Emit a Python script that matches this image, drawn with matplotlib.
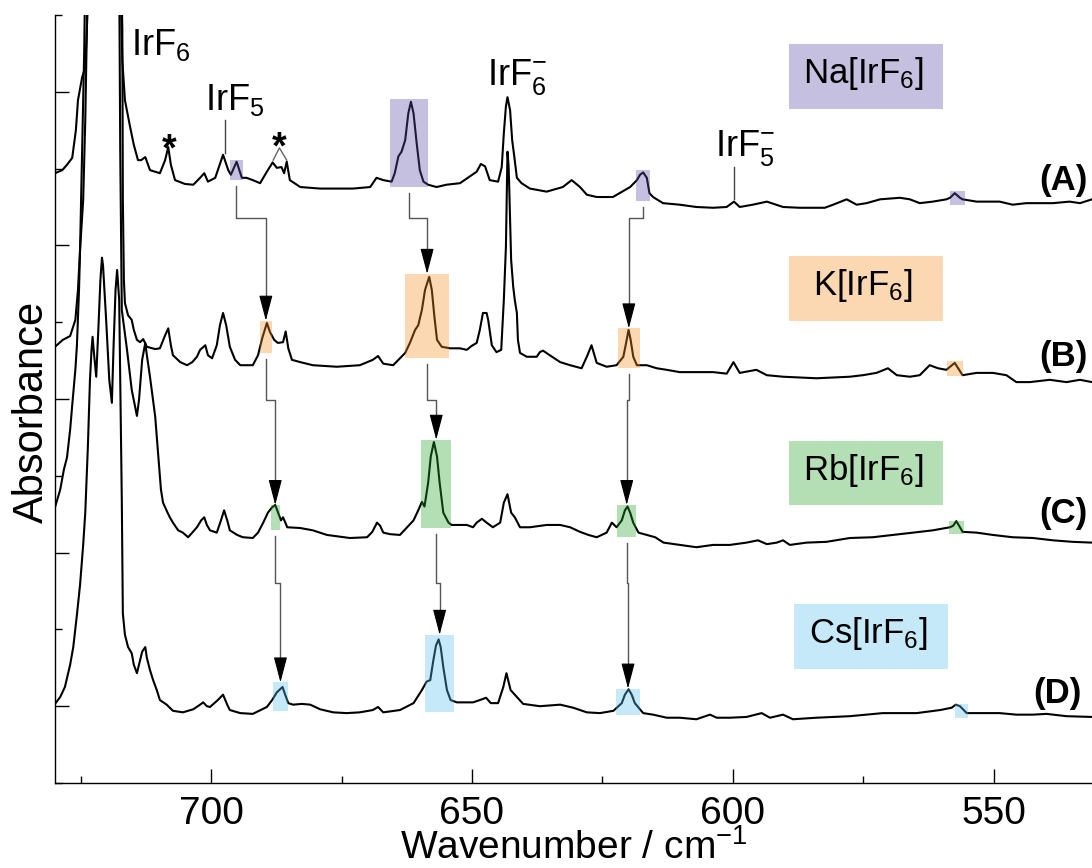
import numpy as np
import matplotlib.pyplot as plt
from matplotlib.patches import Rectangle, FancyArrowPatch

plt.rcParams['font.family'] = 'Liberation Sans'
plt.rcParams['mathtext.fontset'] = 'custom'
plt.rcParams['mathtext.rm'] = 'Liberation Sans'
plt.rcParams['mathtext.it'] = 'Liberation Sans:italic'
plt.rcParams['mathtext.bf'] = 'Liberation Sans:bold'

# IR spectra (wavenumber / cm-1, stacked absorbance)
na_spec = [
    (729.9, 7.94), (728.5, 7.98), (727.6, 8.05), (726.6, 8.14), (725.9, 8.50), (725.5, 8.89),
    (724.7, 9.19), (724.1, 9.32), (723.8, 9.80), (723.5, 10.6), (717.4, 10.6), (717.2, 9.97),
    (717.0, 9.41), (716.5, 8.89), (715.5, 8.54), (714.8, 8.31), (714.0, 8.11), (713.4, 8.11),
    (712.6, 8.15), (711.7, 7.98), (709.8, 7.94), (708.8, 8.11), (708.2, 8.28), (707.7, 8.05),
    (706.9, 7.85), (705.0, 7.80), (703.4, 7.79), (702.1, 7.88), (701.3, 7.94), (700.6, 7.83),
    (699.2, 7.88), (697.7, 8.18), (696.7, 7.98), (696.2, 7.92), (695.1, 8.09), (694.1, 7.88),
    (693.2, 7.88), (692.0, 7.85), (690.6, 7.81), (689.3, 7.96), (688.2, 8.08), (687.4, 8.01),
    (686.5, 8.02), (686.0, 7.94), (685.5, 8.09), (684.9, 7.85), (682.9, 7.76), (679.1, 7.74),
    (672.8, 7.74), (669.5, 7.76), (668.3, 7.88), (667.0, 7.85), (665.4, 7.83), (664.8, 7.94),
    (664.1, 8.16), (663.5, 8.22), (662.8, 8.37), (662.2, 8.72), (661.7, 8.87), (661.2, 8.72),
    (660.6, 8.33), (660.0, 7.98), (659.3, 7.83), (658.4, 7.79), (656.8, 7.76), (654.9, 7.79),
    (652.3, 7.81), (650.8, 7.88), (649.1, 7.96), (648.3, 8.06), (647.5, 8.03), (646.6, 7.85),
    (645.0, 7.83), (644.3, 8.02), (643.9, 8.46), (643.5, 8.81), (643.2, 8.93), (642.7, 8.76),
    (642.3, 8.37), (641.9, 8.16), (641.4, 7.88), (640.5, 7.81), (638.9, 7.74), (635.7, 7.70),
    (632.6, 7.76), (630.9, 7.85), (629.3, 7.76), (628.0, 7.66), (626.1, 7.63), (623.0, 7.63),
    (619.7, 7.76), (618.4, 7.85), (617.8, 7.92), (617.2, 7.95), (616.5, 7.88), (616.0, 7.68),
    (615.3, 7.63), (613.4, 7.55), (610.2, 7.53), (607.0, 7.50), (603.8, 7.49), (601.2, 7.50),
    (599.8, 7.57), (598.7, 7.50), (596.2, 7.53), (593.5, 7.57), (590.4, 7.50), (587.2, 7.49),
    (582.4, 7.49), (580.8, 7.53), (578.2, 7.60), (576.3, 7.53), (574.4, 7.55), (571.8, 7.60),
    (568.0, 7.62), (566.1, 7.60), (564.2, 7.55), (561.7, 7.57), (559.1, 7.60), (558.4, 7.62),
    (557.5, 7.68), (556.5, 7.62), (556.0, 7.60), (553.3, 7.57), (548.9, 7.57), (546.4, 7.53),
    (543.8, 7.55), (538.7, 7.55), (535.5, 7.57), (533.5, 7.55), (531.2, 7.60),
]

k_spec = [
    (729.9, 5.68), (728.4, 5.77), (727.0, 5.82), (726.0, 6.03), (725.5, 6.42), (725.1, 6.94),
    (724.5, 7.59), (724.1, 8.63), (723.8, 9.80), (723.5, 10.6), (717.2, 10.6), (717.0, 9.80),
    (716.9, 7.59), (716.7, 6.55), (716.5, 6.25), (715.9, 6.09), (715.2, 6.03), (714.8, 5.90),
    (714.2, 5.77), (713.6, 5.74), (713.0, 5.78), (712.3, 5.68), (710.7, 5.65), (709.8, 5.66),
    (708.8, 5.83), (708.2, 5.92), (707.7, 5.70), (707.3, 5.57), (705.9, 5.48), (704.6, 5.44),
    (703.6, 5.48), (702.7, 5.55), (702.1, 5.64), (701.1, 5.70), (700.6, 5.57), (699.8, 5.53),
    (698.9, 5.70), (698.3, 5.96), (697.7, 6.12), (697.1, 5.96), (696.4, 5.68), (695.4, 5.51),
    (694.4, 5.44), (692.0, 5.44), (691.0, 5.57), (690.2, 5.79), (689.3, 5.99), (688.7, 5.87),
    (687.9, 5.77), (687.2, 5.73), (686.2, 5.74), (685.7, 5.88), (685.2, 5.66), (684.5, 5.51),
    (682.9, 5.48), (680.5, 5.44), (675.9, 5.42), (671.5, 5.44), (669.0, 5.51), (668.0, 5.56),
    (667.0, 5.46), (665.1, 5.44), (662.8, 5.60), (661.9, 5.73), (660.9, 5.90), (660.3, 5.96),
    (659.6, 6.16), (659.0, 6.42), (658.2, 6.59), (657.7, 6.42), (657.2, 6.07), (656.7, 5.77),
    (655.8, 5.68), (654.2, 5.66), (652.3, 5.66), (651.0, 5.64), (650.1, 5.69), (649.1, 5.73),
    (648.5, 5.90), (647.9, 6.12), (647.2, 6.12), (646.9, 6.03), (646.2, 5.70), (645.3, 5.61),
    (644.4, 5.64), (643.9, 6.29), (643.5, 6.98), (643.3, 7.79), (643.2, 8.22), (643.0, 8.05),
    (642.9, 7.85), (642.7, 7.33), (642.5, 6.81), (642.1, 6.46), (641.8, 6.29), (641.4, 6.12),
    (641.2, 5.77), (640.8, 5.60), (639.5, 5.55), (637.6, 5.55), (637.0, 5.61), (636.4, 5.63),
    (635.1, 5.57), (633.1, 5.48), (631.2, 5.44), (629.0, 5.40), (628.0, 5.55), (627.1, 5.70),
    (626.1, 5.47), (624.2, 5.42), (622.3, 5.44), (621.0, 5.55), (620.5, 5.72), (620.0, 5.90),
    (619.6, 5.77), (619.1, 5.55), (618.4, 5.44), (616.5, 5.44), (614.6, 5.40), (612.7, 5.38),
    (610.2, 5.35), (603.8, 5.35), (601.2, 5.33), (599.9, 5.48), (598.7, 5.34), (595.5, 5.38),
    (593.5, 5.31), (590.4, 5.29), (584.0, 5.27), (577.6, 5.29), (575.1, 5.31), (572.5, 5.34),
    (570.3, 5.40), (568.6, 5.31), (566.1, 5.29), (564.2, 5.31), (562.3, 5.44), (560.7, 5.40),
    (559.1, 5.38), (557.5, 5.47), (556.0, 5.31), (553.3, 5.34), (550.2, 5.34), (547.6, 5.31),
    (545.7, 5.22), (543.1, 5.22), (539.3, 5.25), (536.1, 5.22), (533.5, 5.25), (531.2, 5.22),
]

rb_spec = [
    (729.9, 3.59), (728.9, 3.82), (728.2, 4.08), (727.6, 4.24), (727.0, 4.60), (726.6, 4.92),
    (726.0, 5.38), (725.7, 5.70), (725.3, 6.42), (725.1, 6.94), (724.7, 8.24), (724.3, 9.54),
    (724.1, 10.6), (717.6, 10.6), (717.4, 8.24), (717.1, 6.16), (716.1, 5.64), (715.2, 5.12),
    (714.2, 4.78), (713.8, 4.99), (713.2, 5.51), (712.6, 5.73), (712.3, 5.57), (711.7, 5.29),
    (710.7, 4.77), (710.2, 4.34), (709.6, 3.82), (709.2, 3.65), (708.4, 3.53), (707.9, 3.46),
    (707.3, 3.39), (706.3, 3.29), (705.4, 3.26), (704.4, 3.20), (703.6, 3.26), (702.7, 3.33),
    (701.9, 3.42), (701.3, 3.46), (700.8, 3.36), (700.2, 3.29), (698.9, 3.26), (698.1, 3.42),
    (697.5, 3.55), (696.9, 3.42), (696.4, 3.29), (695.0, 3.23), (693.9, 3.20), (692.0, 3.19),
    (691.0, 3.26), (690.0, 3.39), (689.1, 3.52), (688.3, 3.59), (687.7, 3.62), (687.2, 3.53),
    (686.6, 3.42), (686.2, 3.46), (685.4, 3.33), (682.9, 3.32), (680.5, 3.29), (677.8, 3.23),
    (673.4, 3.19), (670.1, 3.20), (669.1, 3.27), (668.2, 3.39), (667.6, 3.35), (667.0, 3.26),
    (665.7, 3.24), (663.8, 3.23), (661.2, 3.42), (660.3, 3.55), (659.6, 3.66), (659.1, 3.60),
    (658.4, 3.91), (657.9, 4.25), (657.3, 4.44), (656.7, 4.25), (656.2, 3.91), (655.5, 3.52),
    (654.5, 3.39), (653.9, 3.36), (651.0, 3.36), (649.8, 3.33), (649.1, 3.39), (648.1, 3.44),
    (647.2, 3.39), (646.0, 3.33), (644.6, 3.39), (643.9, 3.65), (643.2, 3.76), (642.5, 3.52),
    (641.8, 3.46), (640.8, 3.33), (638.9, 3.33), (635.7, 3.36), (633.1, 3.36), (631.2, 3.33),
    (629.3, 3.27), (627.7, 3.23), (626.1, 3.20), (624.2, 3.26), (623.2, 3.39), (622.3, 3.33),
    (621.3, 3.42), (620.7, 3.55), (620.2, 3.60), (619.7, 3.52), (619.1, 3.39), (618.1, 3.26),
    (616.5, 3.23), (614.9, 3.20), (613.3, 3.13), (610.2, 3.10), (607.0, 3.07), (603.8, 3.10),
    (600.6, 3.10), (597.4, 3.13), (595.2, 3.16), (593.5, 3.11), (591.6, 3.13), (590.4, 3.16),
    (589.1, 3.10), (585.9, 3.13), (582.1, 3.14), (577.6, 3.19), (573.2, 3.20), (569.3, 3.23),
    (565.5, 3.26), (561.7, 3.29), (558.4, 3.33), (557.8, 3.35), (557.2, 3.41), (556.5, 3.33),
    (556.0, 3.27), (553.3, 3.26), (550.2, 3.23), (546.4, 3.20), (542.5, 3.19), (538.7, 3.16),
    (534.9, 3.14), (531.2, 3.13),
]

cs_spec = [
    (729.9, 1.03), (728.9, 1.12), (728.0, 1.25), (727.0, 1.54), (726.4, 1.77), (725.7, 2.19),
    (725.1, 2.58), (724.5, 3.10), (724.1, 3.52), (723.6, 4.38), (723.2, 5.25), (722.9, 5.64),
    (722.7, 5.81), (722.4, 5.57), (722.0, 5.29), (721.6, 5.90), (721.2, 6.55), (720.9, 6.84),
    (720.7, 6.74), (720.1, 6.03), (719.5, 5.25), (719.0, 4.95), (718.7, 5.64), (718.3, 6.42),
    (718.0, 6.68), (717.6, 6.29), (717.4, 5.25), (717.1, 3.68), (716.9, 2.21), (716.5, 1.93),
    (715.9, 1.77), (715.2, 1.69), (714.8, 1.54), (714.2, 1.43), (713.8, 1.54), (713.2, 1.71),
    (712.6, 1.77), (712.3, 1.63), (711.7, 1.47), (711.1, 1.34), (710.4, 1.21), (709.8, 1.08),
    (708.5, 1.02), (707.3, 0.94), (705.4, 0.92), (703.4, 0.96), (702.1, 1.02), (701.5, 1.05),
    (700.8, 1.00), (700.2, 0.99), (698.7, 1.08), (697.7, 1.15), (696.9, 1.02), (696.4, 0.95),
    (694.4, 0.91), (692.0, 0.90), (689.3, 0.99), (688.3, 1.08), (687.4, 1.18), (686.3, 1.25),
    (685.8, 1.15), (685.2, 1.04), (684.3, 1.02), (682.6, 1.03), (681.0, 1.02), (679.1, 0.96),
    (676.6, 0.92), (674.0, 0.91), (671.5, 0.92), (669.0, 0.95), (668.0, 0.99), (667.0, 0.92),
    (663.8, 0.95), (661.2, 1.04), (659.6, 1.21), (658.7, 1.32), (658.0, 1.34), (657.4, 1.60),
    (656.9, 1.79), (656.4, 1.87), (656.0, 1.77), (655.5, 1.51), (654.8, 1.21), (654.1, 1.08),
    (652.9, 1.05), (649.8, 1.05), (648.5, 1.08), (647.3, 1.11), (646.4, 1.04), (645.0, 1.04),
    (644.0, 1.25), (643.4, 1.43), (642.6, 1.21), (641.8, 1.15), (640.2, 1.03), (637.0, 1.00),
    (633.1, 1.02), (630.6, 0.98), (628.0, 0.92), (625.5, 0.91), (622.9, 0.94), (621.3, 1.04),
    (620.7, 1.15), (620.0, 1.22), (619.4, 1.15), (618.8, 1.04), (617.2, 0.91), (615.3, 0.89),
    (612.7, 0.85), (610.2, 0.85), (607.0, 0.83), (604.4, 0.89), (603.1, 0.85), (600.6, 0.85),
    (597.4, 0.86), (594.5, 0.91), (592.9, 0.85), (590.4, 0.89), (588.5, 0.83), (584.0, 0.85),
    (577.6, 0.87), (571.3, 0.91), (564.8, 0.91), (560.3, 0.95), (558.1, 0.98), (557.3, 1.02),
    (556.5, 1.00), (555.2, 0.91), (552.1, 0.91), (548.9, 0.91), (545.7, 0.89), (542.5, 0.89),
    (539.9, 0.90), (536.1, 0.87), (531.2, 0.86),
]

# highlighted bands per sample: (upper wn, lower wn, low abs, high abs)
na_bands = [(696.4, 693.9, 7.85, 8.11), (665.7, 658.4, 7.76, 8.90), (618.6, 615.8, 7.58, 7.98), (558.4, 555.6, 7.53, 7.71)]
k_bands = [(690.7, 688.3, 5.60, 6.02), (662.8, 654.4, 5.54, 6.63), (622.1, 617.8, 5.41, 5.92), (559.0, 555.9, 5.30, 5.49)]
rb_bands = [(688.6, 686.8, 3.29, 3.62), (659.7, 654.0, 3.32, 4.47), (622.2, 618.5, 3.20, 3.62), (558.6, 555.7, 3.24, 3.41)]
cs_bands = [(688.1, 685.3, 0.94, 1.31), (659.0, 653.4, 0.93, 1.93), (622.4, 617.8, 0.89, 1.23), (557.5, 555.0, 0.84, 1.03)]

samples = ['Na[IrF$_6$]', 'K[IrF$_6$]', 'Rb[IrF$_6$]', 'Cs[IrF$_6$]']
panels = ['(A)', '(B)', '(C)', '(D)']
colors = ['#594ba6', '#f49020', '#29a129', '#59c0ee']

spectra = [na_spec, k_spec, rb_spec, cs_spec]
bands = [na_bands, k_bands, rb_bands, cs_bands]

fig = plt.figure(figsize=(10.92, 8.68), dpi=100)
ax = fig.add_axes([55 / 1092, 85 / 868, 1037 / 1092, 768 / 868])

for spec, blist, col in zip(spectra, bands, colors):
    wn, ab = np.array(spec).T
    ax.plot(wn, ab, color='black', lw=1.5, zorder=2, solid_joinstyle='round')
    for hi, lo, a0, a1 in blist:
        ax.add_patch(Rectangle((lo, a0), hi - lo, a1 - a0, facecolor=col,
                               alpha=0.35, lw=0, zorder=3))

# arrows following each band from one salt to the next
elbows = [7.36, 4.99, 2.61]
for i, yk in enumerate(elbows):
    for (h0, l0, b0, t0), (h1, l1, b1, t1) in zip(bands[i][:3], bands[i + 1][:3]):
        x0 = (h0 + l0) / 2
        x1 = (h1 + l1) / 2
        ax.plot([x0, x0, x1, x1], [b0 - 0.08, yk, yk, t1 + 0.25],
                color='#555555', lw=1.0, zorder=4)
        ax.add_patch(FancyArrowPatch((x1, t1 + 0.3), (x1, t1),
                                     arrowstyle='-|>,head_length=1.6,head_width=0.42',
                                     mutation_scale=10, color='black', lw=0.8,
                                     shrinkA=0, shrinkB=0, zorder=5))

# sample name boxes
name_boxes = [(589.3, 559.8, 8.77, 9.62), (589.3, 559.8, 6.02, 6.86),
              (589.3, 559.8, 3.62, 4.45), (588.3, 558.8, 1.49, 2.33)]
for (hi, lo, a0, a1), name, col in zip(name_boxes, samples, colors):
    ax.add_patch(Rectangle((lo, a0), hi - lo, a1 - a0, facecolor=col, alpha=0.35, lw=0))
    ax.text((hi + lo) / 2 + 0.5, (a0 + a1) / 2 - 0.085, name, fontsize=25,
            ha='center', va='baseline')

# panel letters
for (x, y), p in zip([(532.0, 7.72), (532.0, 5.43), (532.0, 3.39), (533.2, 1.04)], panels):
    ax.text(x, y, p, fontsize=25, fontweight='bold', ha='right', va='baseline')

# species assignments
ax.text(715.3, 9.48, 'IrF$_6$', fontsize=26, ha='left', va='baseline')
ax.text(701.1, 8.76, 'IrF$_5$', fontsize=26, ha='left', va='baseline')
ax.plot([697.3, 697.3], [8.63, 8.20], color='#444444', lw=1)
ax.text(647.1, 9.09, 'IrF$_6^{-}$', fontsize=26, ha='left', va='baseline')
ax.text(603.4, 8.16, 'IrF$_5^{-}$', fontsize=26, ha='left', va='baseline')
ax.plot([599.8, 599.8], [8.02, 7.61], color='#444444', lw=1)
ax.text(708.0, 8.10, '*', fontsize=27, fontweight='bold', ha='center', va='baseline')
ax.text(686.9, 8.13, '*', fontsize=27, fontweight='bold', ha='center', va='baseline')
ax.plot([688.1, 686.9, 685.5], [8.11, 8.27, 8.11], color='#666666', lw=1)

ax.set_xlim(729.9, 531.2)
ax.set_ylim(0, 10)
ax.set_xticks([700, 650, 600, 550])
ax.set_xticks([725, 675, 625, 575], minor=True)
ax.set_yticks([1, 3, 5, 7, 9])
ax.set_yticks([0, 2, 4, 6, 8, 10], minor=True)
ax.set_yticklabels([])
ax.tick_params(which='major', direction='in', length=10, width=1, labelsize=28, pad=9)
ax.tick_params(which='minor', direction='in', length=5, width=1)
for s in ['top', 'right']:
    ax.spines[s].set_visible(False)
for s in ['left', 'bottom']:
    ax.spines[s].set_linewidth(1.0)

ax.set_xlabel('Wavenumber / cm$^{-1}$', fontsize=28)
ax.xaxis.set_label_coords(0.5, -0.060)
ax.set_ylabel('Absorbance', fontsize=30)
ax.yaxis.set_label_coords(-0.003, 0.483)

fig.savefig('out.png', dpi=100)
